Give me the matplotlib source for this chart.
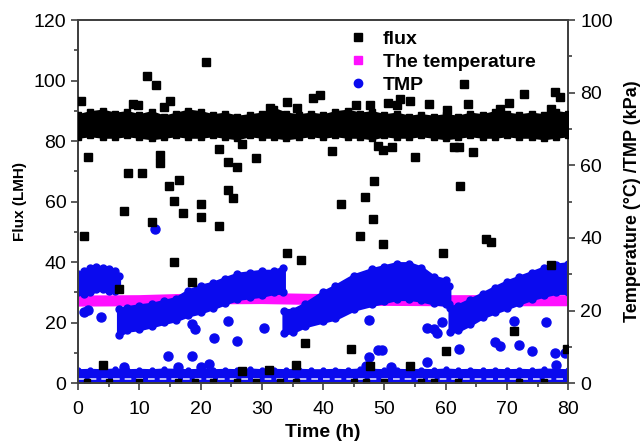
import numpy as np
import matplotlib.pyplot as plt
from matplotlib.lines import Line2D
from matplotlib.ticker import MultipleLocator

plt.rcParams['font.family'] = ['Liberation Sans', 'DejaVu Sans']

# flux (LMH) - dense band, upper and lower edge every 2 h
t_band = np.arange(0, 81, 2)
flux_up = [88.5, 89.5, 90.0, 89.0, 89.5, 88.5, 89.5, 88.0, 89.0, 90.0, 89.5, 88.5, 89.0, 88.0,
           88.5, 89.0, 90.5, 89.0, 88.5, 89.0, 88.5, 89.5, 90.0, 89.0, 89.5, 88.5, 89.0, 88.0,
           88.5, 88.0, 88.5, 88.0, 89.0, 88.5, 89.5, 89.0, 88.5, 89.0, 88.5, 89.5, 89.0]
flux_lo = [81.5, 82.0, 81.5, 81.5, 82.0, 81.5, 81.0, 81.5, 82.0, 81.5, 81.5, 82.0, 81.5, 81.0,
           82.0, 81.5, 81.5, 81.0, 81.5, 82.0, 81.5, 82.0, 81.5, 81.5, 81.0, 82.0, 81.5, 81.5,
           82.0, 81.5, 81.0, 81.5, 82.0, 81.5, 81.5, 82.0, 81.5, 81.5, 81.0, 81.5, 82.0]

# flux outliers
flux_t = [0.4, 1.7, 0.9, 4.0, 6.7, 7.5, 8.2, 9.0, 9.8, 10.5, 11.2, 12.0, 12.7, 13.4, 13.4, 14.0,
          14.9, 15.0, 15.6, 15.7, 16.4, 17.2, 18.6, 20.1, 20.1, 20.8, 23.0, 23.0, 24.5, 24.5,
          25.3, 26.0, 26.7, 26.7, 29.0, 31.2, 31.3, 34.1, 34.1, 35.6, 35.7, 36.4, 37.1, 38.4,
          39.4, 41.5, 42.9, 44.5, 45.4, 46.0, 46.9, 47.6, 47.6, 48.2, 48.3, 48.9, 49.7, 49.7,
          50.6, 51.2, 52.0, 52.6, 54.2, 54.2, 54.9, 57.2, 59.5, 60.1, 60.2, 61.4, 62.2, 62.3,
          62.9, 63.7, 64.4, 66.6, 67.4, 68.9, 70.4, 71.2, 72.7, 77.1, 77.1, 77.9, 78.7, 79.8]
flux_v = [93.2, 74.8, 48.6, 6.0, 31.0, 56.9, 69.3, 92.2, 91.9, 69.3, 101.6, 53.3, 98.7, 75.4, 72.6, 91.3,
          65.2, 93.2, 40.0, 60.2, 67.1, 56.1, 33.3, 59.1, 55.0, 106.1, 77.3, 51.9, 73.0, 63.8,
          61.1, 71.5, 79.0, 4.1, 74.5, 4.3, 90.8, 93.0, 42.9, 6.0, 90.8, 40.7, 13.3, 94.1,
          95.2, 76.8, 59.2, 11.2, 91.9, 48.7, 61.4, 91.9, 5.7, 54.2, 66.9, 78.3, 77.2, 45.9,
          92.7, 77.9, 91.9, 93.8, 93.3, 5.6, 74.8, 92.1, 43.1, 10.7, 90.2, 77.9, 78.1, 65.2,
          98.8, 92.1, 76.5, 47.5, 46.7, 90.5, 92.7, 17.3, 95.4, 39.0, 90.5, 96.3, 94.6, 11.2]
flux_zero_t = [1.5, 5, 10, 16.3, 19, 22, 26, 29, 33, 35.5, 45, 47, 50, 56, 58, 62, 72, 76]

# temperature (°C)
temp_t = [0, 10, 20, 30, 40, 50, 60, 70, 80]
temp_v = [22.6, 22.7, 23.2, 23.3, 23.0, 22.8, 22.7, 22.7, 22.7]

# TMP (kPa) - four cycles, upper/lower edges
tmp_segs = [
    ([0, 1, 2, 3, 4, 5, 6, 6.6],
     [30.0, 30.8, 31.7, 32.1, 31.7, 31.3, 30.8, 29.6],
     [25.0, 24.6, 25.0, 25.8, 25.8, 25.4, 25.4, 25.8]),
    ([6.6, 8, 10, 12, 14, 16, 18, 20, 22, 24, 26, 28, 30, 32, 33.5],
     [20.4, 20.8, 21.3, 21.7, 22.5, 23.3, 25.4, 26.7, 27.5, 28.8, 30.0, 30.4, 30.8, 30.8, 31.7],
     [13.3, 14.6, 15.0, 15.8, 16.7, 17.5, 18.8, 19.6, 20.8, 22.1, 23.3, 23.8, 24.2, 25.0, 25.0]),
    ([33.6, 35, 37, 40, 42, 45, 48, 50, 52, 54, 56, 58, 60, 60.5],
     [20.0, 20.0, 21.7, 25.0, 26.7, 29.6, 31.3, 32.1, 32.9, 32.9, 31.7, 29.2, 28.3, 26.7],
     [13.8, 14.2, 15.8, 17.1, 17.9, 20.4, 21.7, 22.5, 23.3, 23.3, 22.9, 22.1, 21.7, 21.7]),
    ([60.7, 62, 64, 66, 68, 70, 72, 74, 76, 78, 80],
     [20.8, 21.3, 22.9, 24.6, 26.3, 27.9, 29.2, 30.4, 31.7, 32.5, 32.9],
     [14.2, 14.6, 16.3, 18.3, 19.6, 20.8, 22.1, 23.3, 24.2, 25.0, 25.0]),
]
tmp_base_t = np.arange(0, 81, 2)
tmp_base = [3.6, 3.7, 3.6, 3.8, 3.6, 3.7, 3.6, 3.8, 3.7, 3.6, 3.7, 3.6, 3.7, 3.6, 3.8, 3.6, 3.7,
            3.6, 3.7, 3.6, 3.6, 3.7, 3.6, 3.8, 3.7, 3.6, 3.7, 3.6, 3.7, 3.6, 3.8, 3.6, 3.7,
            3.6, 3.7, 3.6, 3.7, 3.6, 3.8, 3.7, 3.6]

tmp_t = [0.9, 1.7, 3.8, 12.6, 14.7, 18.6, 18.6, 19.1, 21.4, 22.1, 24.4, 25.9, 30.4, 47.4, 47.4,
         49.0, 49.6, 57.0, 58.0, 58.6, 59.4, 57.0, 62.1, 68.1, 68.9, 71.1, 71.9, 74.1, 76.4,
         77.9, 79.5, 7.5, 16.3, 20.0, 47.0, 51.0, 78.0]
tmp_v = [19.7, 20.1, 18.3, 42.4, 7.4, 7.4, 16.4, 14.9, 5.4, 12.3, 17.1, 11.7, 15.3, 17.3, 7.3,
         9.1, 9.1, 15.3, 14.9, 13.7, 16.9, 5.8, 9.3, 11.4, 10.3, 17.1, 10.5, 8.8, 16.9,
         8.2, 8.2, 4.5, 4.4, 4.5, 4.6, 4.4, 5.0]

blue = '#0a0aee'
magenta = '#ff10ff'

fig = plt.figure(figsize=(6.4, 4.46), dpi=100)
ax = fig.add_axes([0.122, 0.141, 0.766, 0.814])
ax2 = ax.twinx()
ax.set_zorder(2)
ax.patch.set_visible(False)

# right axis: temperature + TMP
ax2.plot(temp_t, temp_v, color=magenta, lw=8, solid_capstyle='butt', zorder=1)
for ts, up, lo in tmp_segs:
    ax2.fill_between(ts, lo, up, color=blue, lw=3, edgecolor=blue, zorder=2)
    ax2.plot(ts, up, 'o', color=blue, ms=5, zorder=2)
    ax2.plot(ts, lo, 'o', color=blue, ms=5, zorder=2)
ax2.fill_between(tmp_base_t, 0, tmp_base, color=blue, lw=2, edgecolor=blue, zorder=2)
ax2.plot(tmp_base_t, tmp_base, 'o', color=blue, ms=3.5, zorder=2)
ax2.plot(tmp_t, tmp_v, 'o', color=blue, ms=6.5, lw=0, zorder=2)
ax2.plot([0, 80], [1.25, 1.25], color='#d8d8ff', lw=1.2, ls=(0, (4, 3)), zorder=3)

# left axis: flux
ax.plot(flux_zero_t, [0.3] * len(flux_zero_t), 's', color='black', ms=5, zorder=0.5)
ax.fill_between(t_band, flux_lo, flux_up, color='black', lw=2.5, edgecolor='black', zorder=3)
ax.plot(t_band, flux_up, 's', color='black', ms=4.5, zorder=3)
ax.plot(t_band, flux_lo, 's', color='black', ms=4.5, zorder=3)
ax.plot(flux_t, flux_v, 's', color='black', ms=5.5, lw=0, zorder=3)

ax.set_xlim(0, 80)
ax.set_ylim(0, 120)
ax2.set_ylim(0, 100)

ax.xaxis.set_major_locator(MultipleLocator(10))
ax.xaxis.set_minor_locator(MultipleLocator(5))
ax.yaxis.set_major_locator(MultipleLocator(20))
ax.yaxis.set_minor_locator(MultipleLocator(10))
ax2.yaxis.set_major_locator(MultipleLocator(20))
ax2.yaxis.set_minor_locator(MultipleLocator(10))

for a in (ax, ax2):
    a.tick_params(which='major', direction='out', length=5, width=1.2, color='#404040',
                  labelsize=14)
    a.tick_params(which='minor', direction='out', length=3, width=1.2, color='#404040')
    for s in a.spines.values():
        s.set_color('#404040')
        s.set_linewidth(1.3)
ax.tick_params(axis='x', which='major', pad=8)

ax.set_xlabel('Time (h)', fontsize=14, fontweight='bold', labelpad=4)
ax.set_ylabel('Flux (LMH)', fontsize=11, fontweight='bold', labelpad=5)
ax2.set_ylabel('Temperature (°C) /TMP (kPa)', fontsize=13, fontweight='bold', labelpad=8)

handles = [
    Line2D([], [], marker='s', color='black', ls='none', ms=6),
    Line2D([], [], marker='s', color=magenta, ls='none', ms=5.5),
    Line2D([], [], marker='o', color=blue, ls='none', ms=6),
]
leg = ax.legend(handles, ['flux', 'The temperature', 'TMP'], loc='upper left',
                bbox_to_anchor=(0.495, 1.02), frameon=False, handletextpad=0.3,
                labelspacing=0.28, prop={'weight': 'bold', 'size': 14})
leg.set_zorder(10)

fig.savefig('out.png', dpi=100)
